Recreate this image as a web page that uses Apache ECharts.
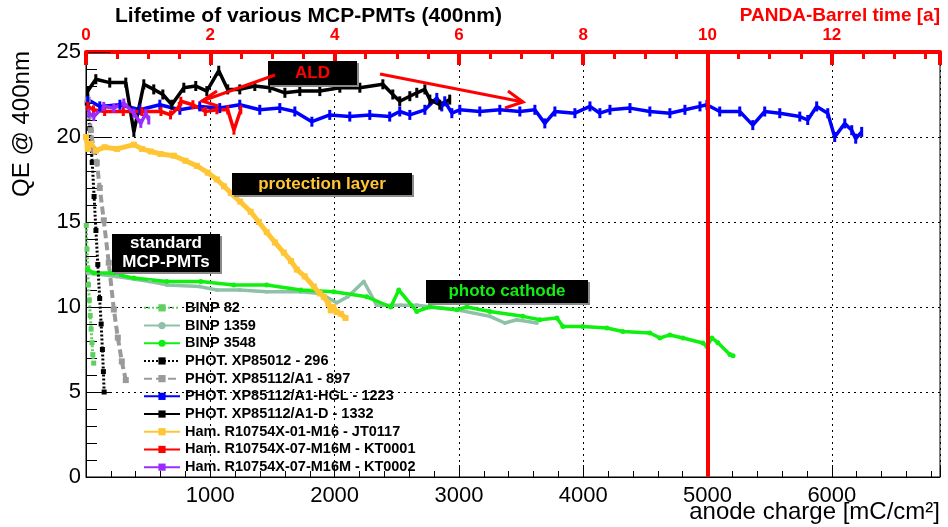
<!DOCTYPE html>
<html>
<head>
<meta charset="utf-8">
<script src="https://cdn.jsdelivr.net/npm/echarts@6/dist/echarts.min.js"></script>
<style>
html, body { margin: 0; padding: 0; background: #fff; }
#main { width: 948px; height: 527px; }
</style>
</head>
<body>
<div id="main"></div>
<script>
// anode charge [mC/cm2] vs QE @ 400nm
var binp82 = [[2,14.8],[8,13.4],[14,12.3],[20,11.3],[27,10.4],[34,9.5],[41,8.7],[48,7.9],[55,7.2],[62,6.7]];
var binp1359 = [[14,12.0],[249,11.8],[514,11.5],[650,11.3],[916,11.2],[1053,11.0],[1237,11.0],[1454,10.9],[1728,10.9],[1881,10.8],[2017,10.25],[2106,10.6],[2235,11.5],[2339,10.1],[2532,10.1],[2661,10.1],[2984,9.84],[3249,9.45],[3370,9.06],[3466,9.25],[3627,9.06]];
var binp3548 = [[14,12.2],[63,12.0],[200,12.0],[385,11.7],[650,11.5],[924,11.5],[1189,11.3],[1454,11.3],[1728,11.0],[1993,10.9],[2259,10.6],[2452,10.0],[2516,11.0],[2661,9.74],[2766,10.0],[2984,9.84],[3064,10.0],[3249,9.74],[3514,9.45],[3651,9.25],[3788,9.35],[3836,8.86],[3997,8.86],[4190,8.76],[4319,8.56],[4536,8.47],[4617,8.18],[4697,8.35],[4802,8.18],[4963,7.88],[4995,7.68],[5035,8.18],[5083,7.9],[5180,7.2],[5205,7.13]];
var phot296 = [[10,22.0],[30,20.5],[50,18.5],[65,16.5],[80,14.5],[95,12.5],[110,10.5],[122,9.0],[132,7.5],[140,6.2],[146,5.0]];
var phot897 = [[14,22.2],[39,20.4],[63,19.2],[87,18.5],[111,17.0],[143,15.1],[183,12.6],[224,9.85],[256,8.2],[288,6.8],[320,5.7]];
var hgl1223 = [[14,22.2],[111,21.8],[273,21.9],[433,21.6],[594,21.9],[755,21.6],[915,21.8],[1076,21.7],[1237,21.9],[1398,21.6],[1559,21.7],[1680,21.5],[1817,20.9],[1961,21.3],[2122,21.2],[2283,21.3],[2443,21.2],[2524,21.5],[2605,21.3],[2726,21.6],[2822,22.3],[2862,21.8],[2886,22.1],[2943,21.4],[3007,21.6],[3168,21.5],[3329,21.6],[3490,21.5],[3611,21.6],[3691,20.8],[3772,21.5],[3933,21.4],[4054,21.8],[4134,21.4],[4215,21.6],[4376,21.7],[4536,21.5],[4697,21.4],[4818,21.6],[4939,21.8],[4995,21.9],[5098,21.5],[5259,21.5],[5364,20.7],[5460,21.5],[5581,21.4],[5742,21.2],[5806,21.0],[5878,21.8],[5967,21.4],[6023,20.0],[6104,20.8],[6160,20.4],[6192,19.9],[6240,20.3]];
var d1332 = [[14,22.7],[79,23.4],[191,23.2],[320,23.2],[385,20.3],[465,23.1],[545,22.8],[618,22.5],[690,21.9],[787,22.9],[883,23.0],[972,22.7],[1068,23.9],[1140,22.8],[1237,22.8],[1358,23.0],[1479,22.9],[1600,22.6],[1720,22.7],[1881,22.7],[2042,22.9],[2203,22.9],[2388,23.1],[2468,22.5],[2524,22.1],[2605,22.4],[2661,22.6],[2726,22.8],[2766,22.2],[2846,21.9],[2926,22.2]];
var jt0117 = [[0,20.0],[14,19.3],[40,19.6],[80,19.2],[150,19.4],[250,19.3],[385,19.55],[450,19.3],[521,19.15],[600,19.0],[707,18.9],[800,18.6],[892,18.3],[980,17.9],[1053,17.5],[1110,17.1],[1165,16.7],[1240,16.2],[1325,15.6],[1390,15.0],[1454,14.4],[1520,13.8],[1591,13.2],[1650,12.7],[1696,12.2],[1760,11.8],[1833,11.2],[1880,10.8],[1913,10.6],[1950,10.2],[1969,9.8],[1990,10.0],[2017,9.7],[2050,9.6],[2088,9.35]];
var kt0001 = [[14,21.8],[60,21.6],[150,21.5],[300,21.5],[450,21.5],[603,21.5],[680,21.3],[750,21.8],[763,22.1],[860,21.9],[960,21.5],[1053,21.6],[1140,21.6],[1190,20.4],[1245,21.6]];
var kt0002 = [[23,21.4],[63,21.2],[143,21.8],[224,21.7],[304,22.0],[385,21.4],[441,20.8],[481,21.4],[505,21.0]];

var names = ['BINP 82', 'BINP 1359', 'BINP 3548', 'PHOT. XP85012 - 296', 'PHOT. XP85112/A1 - 897',
    'PHOT. XP85112/A1-HGL - 1223', 'PHOT. XP85112/A1-D - 1332', 'Ham. R10754X-01-M16 - JT0117',
    'Ham. R10754X-07-M16M - KT0001', 'Ham. R10754X-07-M16M - KT0002'];

var xMax = 6870; // right edge of the frame
var FONT = 'Liberation Sans';

function mk(name, data, color, width, type, symbol, size) {
    return {
        name: name,
        type: 'line',
        data: data,
        xAxisIndex: 0,
        yAxisIndex: 0,
        symbol: symbol,
        symbolSize: size,
        showSymbol: true,
        animation: false,
        lineStyle: { color: color, width: width, type: type },
        itemStyle: { color: color }
    };
}

var series = [
    mk(names[0], binp82, '#5fcf5f', 3, [2, 2], 'rect', 5),
    mk(names[1], binp1359, '#8fc1a9', 3.5, 'solid', 'circle', 4),
    mk(names[2], binp3548, '#10f010', 3.5, 'solid', 'circle', 5),
    mk(names[3], phot296, '#000', 3, [2, 2], 'rect', 5),
    mk(names[4], phot897, '#9a9a9a', 4, [8, 4], 'rect', 6),
    mk(names[5], hgl1223, '#0000ff', 3.5, 'solid', 'rect', [3, 10]),
    mk(names[6], d1332, '#000', 3.5, 'solid', 'rect', [3, 10]),
    mk(names[7], jt0117, '#ffc535', 5, 'solid', 'rect', 6),
    mk(names[8], kt0001, '#ff0000', 3.5, 'solid', 'rect', [3, 9]),
    mk(names[9], kt0002, '#9a2cff', 3.5, 'solid', 'rect', [3, 9])
];

// 10 years PANDA line
series[5].markLine = {
    silent: true,
    symbol: 'none',
    label: { show: false },
    lineStyle: { color: '#ff0000', width: 4, type: 'solid' },
    data: [{ xAxis: 5000 }]
};

function box(x, y, w, h, lines, color, fs) {
    var out = [
        { type: 'rect', shape: { x: x + 2, y: y + 2, width: w, height: h }, style: { fill: '#8a8a8a' }, z: 100 },
        { type: 'rect', shape: { x: x, y: y, width: w, height: h }, style: { fill: '#000' }, z: 101 }
    ];
    var lh = fs + 2;
    for (var i = 0; i < lines.length; i++) {
        out.push({
            type: 'text', z: 102,
            x: x + w / 2,
            y: y + h / 2 + (i - (lines.length - 1) / 2) * lh,
            style: { text: lines[i], fill: color, fontSize: fs, fontWeight: 'bold', fontFamily: FONT, align: 'center', verticalAlign: 'middle' }
        });
    }
    return out;
}

function arrow(pts, head) {
    return [
        { type: 'polyline', z: 103, shape: { points: pts }, style: { stroke: '#ff0000', lineWidth: 3, fill: null } },
        { type: 'polyline', z: 103, shape: { points: head }, style: { stroke: '#ff0000', lineWidth: 3, fill: null } }
    ];
}

var graphics = [].concat(
    box(268, 61, 89, 24, ['ALD'], '#ff0000', 17),
    box(232, 173, 180, 22, ['protection layer'], '#ffc535', 17),
    box(112, 234, 108, 38, ['standard', 'MCP-PMTs'], '#ffffff', 17),
    box(426, 280, 162, 23, ['photo cathode'], '#10f010', 17),
    arrow([[275, 75], [202, 101]], [[217, 91], [202, 101], [218, 106]]),
    arrow([[380, 74], [523, 102]], [[508, 91], [523, 102], [505, 108]]),
    [
        { type: 'text', x: 22, y: 124, rotation: Math.PI / 2,
          style: { text: 'QE @ 400nm', fontSize: 24, fontFamily: FONT, fill: '#000', align: 'center', verticalAlign: 'middle' } },
        { type: 'text', x: 940, y: 512,
          style: { text: 'anode charge [mC/cm\u00b2]', fontSize: 24, fontFamily: FONT, fill: '#000', align: 'right', verticalAlign: 'middle' } },
        { type: 'text', x: 115, y: 16,
          style: { text: 'Lifetime of various MCP-PMTs (400nm)', fontSize: 21, fontWeight: 'bold', fontFamily: FONT, fill: '#000', align: 'left', verticalAlign: 'middle' } },
        { type: 'text', x: 940, y: 16,
          style: { text: 'PANDA-Barrel time [a]', fontSize: 19, fontWeight: 'bold', fontFamily: FONT, fill: '#ff0000', align: 'right', verticalAlign: 'middle' } }
    ]
);

var chart = echarts.init(document.getElementById('main'), null, { renderer: 'canvas' });

var option = {
    animation: false,
    backgroundColor: '#fff',
    grid: { left: 86, right: 8, top: 52, bottom: 50, show: true, borderColor: '#000', borderWidth: 1, backgroundColor: 'transparent' },
    legend: {
        data: names,
        orient: 'vertical',
        left: 143,
        top: 299,
        padding: 0,
        itemWidth: 36,
        itemHeight: 9,
        itemGap: 0,
        textStyle: { fontSize: 14.5, fontWeight: 'bold', fontFamily: FONT, color: '#000', lineHeight: 17.7 },
        selectedMode: false
    },
    xAxis: [{
        type: 'value',
        min: 0,
        max: xMax,
        interval: 1000,
        position: 'bottom',
        axisLine: { show: true, lineStyle: { color: '#000', width: 1 } },
        axisTick: { show: true, inside: true, length: 12, lineStyle: { color: '#000' } },
        minorTick: { show: true, splitNumber: 5, length: 6, lineStyle: { color: '#000' } },
        splitLine: { show: true, lineStyle: { color: '#000', type: [2, 4], width: 1 } },
        axisLabel: {
            fontSize: 22, fontFamily: FONT, color: '#000', margin: 8, showMaxLabel: false,
            formatter: function (v) { return (v > 0 && v % 1000 === 0) ? String(v) : ''; }
        }
    }, {
        type: 'value',
        min: 0,
        max: xMax / 500,
        interval: 2,
        position: 'top',
        axisLine: { show: true, lineStyle: { color: '#ff0000', width: 4 } },
        axisTick: { show: true, inside: true, length: 13, lineStyle: { color: '#ff0000', width: 4 } },
        minorTick: { show: true, splitNumber: 4, length: 7, lineStyle: { color: '#ff0000', width: 3 } },
        splitLine: { show: false },
        axisLabel: {
            fontSize: 17, fontWeight: 'bold', fontFamily: FONT, color: '#ff0000', margin: 8, showMaxLabel: false,
            formatter: function (v) { return (v % 2 === 0) ? String(v) : ''; }
        }
    }],
    yAxis: [{
        type: 'value',
        min: 0,
        max: 25,
        interval: 5,
        axisLine: { show: true, lineStyle: { color: '#000', width: 1 } },
        axisTick: { show: true, inside: true, length: 24, lineStyle: { color: '#000' } },
        minorTick: { show: true, splitNumber: 5, length: 11, lineStyle: { color: '#000' } },
        splitLine: { show: true, lineStyle: { color: '#000', type: [2, 4], width: 1 } },
        axisLabel: { fontSize: 22, fontFamily: FONT, color: '#000', margin: 5 }
    }],
    graphic: graphics,
    series: series
};

chart.setOption(option);
</script>
</body>
</html>
